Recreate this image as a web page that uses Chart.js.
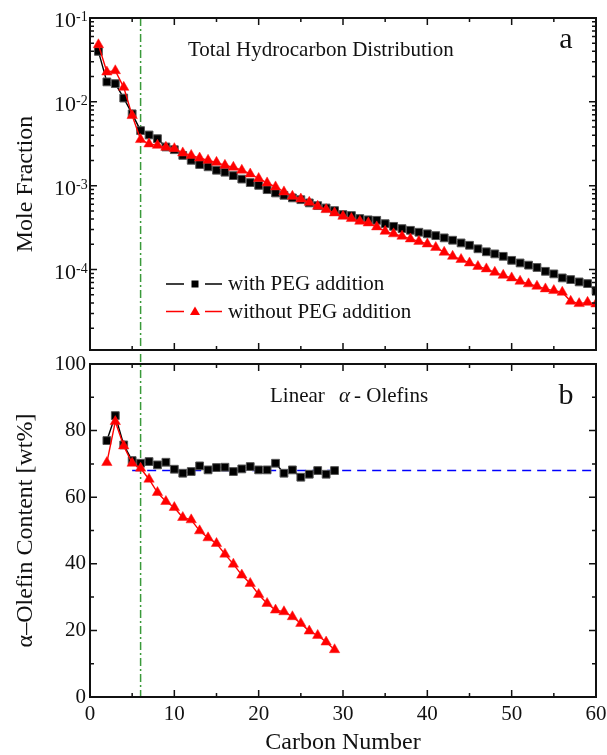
<!DOCTYPE html>
<html><head><meta charset="utf-8">
<script src="https://cdn.jsdelivr.net/npm/chart.js@4.4.1/dist/chart.umd.min.js"></script>
<style>
html,body{margin:0;padding:0;background:#fff;}
#wrap{position:relative;width:607px;height:755px;overflow:hidden;background:#fff;}
canvas{position:absolute;left:0;top:0;}
</style></head><body>
<div id="wrap"><canvas id="cTop" width="607" height="755"></canvas><canvas id="cBot" width="607" height="755"></canvas></div>
<script>
// ---------- data ----------
const carbonTop = [1,2,3,4,5,6,7,8,9,10,11,12,13,14,15,16,17,18,19,20,21,22,23,24,25,26,27,28,29,30,
  31,32,33,34,35,36,37,38,39,40,41,42,43,44,45,46,47,48,49,50,51,52,53,54,55,56,57,58,59,60];
const withPEGTop = [0.040,0.0173,0.0165,0.0111,0.0072,0.00454,0.00403,0.00364,0.0029,0.00269,
  0.0023,0.00201,0.00179,0.00168,0.00153,0.00145,0.00132,0.0012,0.00109,0.00101,
  0.000898,0.00082,0.000769,0.000716,0.000682,0.000624,0.000579,0.000543,0.000505,0.000453,
  0.000441,0.000406,0.000392,0.000387,0.000353,0.000328,0.000308,0.000294,0.000279,0.000267,
  0.000254,0.000239,0.000224,0.000208,0.000195,0.000177,0.000163,0.000154,0.000144,0.000129,
  0.00012,0.000113,0.000106,0.0000954,0.0000889,0.0000796,0.000076,0.0000713,0.0000681,0.0000562];
const withoutPEGTop = [0.048,0.0227,0.0235,0.0149,0.00686,0.00355,0.00315,0.00303,0.00287,0.00277,
  0.00246,0.0023,0.00214,0.00201,0.0019,0.00175,0.00166,0.00153,0.00138,0.00122,
  0.00108,0.000968,0.000844,0.000748,0.000695,0.000634,0.000569,0.000519,0.000474,0.000432,
  0.000406,0.000377,0.00036,0.000323,0.000286,0.000267,0.00025,0.000232,0.000217,0.000202,
  0.000184,0.000161,0.000144,0.000132,0.00012,0.000109,0.000102,0.0000929,0.0000855,0.0000796,
  0.0000726,0.0000676,0.0000633,0.0000589,0.0000562,0.0000537,0.0000419,0.0000393,0.0000407,0.000039];

const carbonBottom = [2,3,4,5,6,7,8,9,10,11,12,13,14,15,16,17,18,19,20,21,22,23,24,25,26,27,28,29];
const withPEGOlefin = [77.0,84.5,75.7,71.0,70.2,70.7,69.7,70.5,68.4,67.2,67.7,69.4,68.2,68.9,69.0,
  67.7,68.5,69.2,68.2,68.2,70.2,67.2,68.2,66.0,66.9,68.0,66.9,68.0];
const withoutPEGOlefin = [70.4,82.7,75.4,70.2,68.7,65.4,61.4,58.7,56.9,53.9,53.2,49.9,47.8,46.1,42.9,
  39.9,36.6,34.1,30.8,28.1,26.1,25.6,24.1,22.1,19.8,18.5,16.5,14.2];

const refLineX = [5, 60];
const refLineY = [68, 68];
const markerCarbon = 6;

const seriesNames = ['with PEG addition', 'without PEG addition'];
const xTickLabels = [0, 10, 20, 30, 40, 50, 60];
const logTickExponents = [-1, -2, -3, -4];
const yTickLabelsBottom = [0, 20, 40, 60, 80, 100];

// ---------- helpers ----------
const SERIF = "'Liberation Serif','Times New Roman',serif";
const INK = '#111';
const toXY = (xs, ys) => xs.map((x, i) => ({x: x, y: ys[i]}));

function drawTicks(chart, opts) {
  const {ctx, chartArea: a, scales: {x, y}} = chart;
  ctx.save();
  ctx.strokeStyle = INK;
  ctx.lineWidth = 1.5;
  ctx.beginPath();
  for (let v = x.min; v <= x.max + 1e-9; v += 5) {
    const px = x.getPixelForValue(v);
    const len = (Math.round(v) % 10 === 0) ? 7 : 4;
    ctx.moveTo(px, a.bottom); ctx.lineTo(px, a.bottom - len);
    ctx.moveTo(px, a.top); ctx.lineTo(px, a.top + len);
  }
  opts.yMarks(y).forEach(m => {
    const py = y.getPixelForValue(m.v);
    const len = m.major ? 7 : 4;
    ctx.moveTo(a.left, py); ctx.lineTo(a.left + len, py);
    ctx.moveTo(a.right, py); ctx.lineTo(a.right - len, py);
  });
  ctx.stroke();
  ctx.lineWidth = 2;
  ctx.strokeRect(a.left, a.top, a.right - a.left, a.bottom - a.top);
  ctx.restore();
}

const framePlugin = {
  id: 'frame',
  beforeDatasetsDraw(chart, args, opts) {
    if (!opts.markerLine) return;
    const {ctx, scales: {x}} = chart;
    const px = x.getPixelForValue(markerCarbon);
    ctx.save();
    ctx.strokeStyle = '#3a9a3a';
    ctx.lineWidth = 1.5;
    ctx.setLineDash([8, 3, 2, 3]);
    ctx.beginPath();
    ctx.moveTo(px, opts.markerTop); ctx.lineTo(px, opts.markerBottom);
    ctx.stroke();
    ctx.restore();
  },
  afterDatasetsDraw(chart, args, opts) {
    drawTicks(chart, opts);
    if (opts.decorate) opts.decorate(chart);
  }
};

function yAxisFit(scale) { scale.width = 90; scale.paddingTop = 0; scale.paddingBottom = 0; }

// ---------- top chart ----------
function decorateTop(chart) {
  const {ctx, chartArea: a, scales: {y}} = chart;
  ctx.save();
  ctx.fillStyle = INK;
  logTickExponents.forEach(e => {
    const py = y.getPixelForValue(Math.pow(10, e));
    ctx.font = `22px ${SERIF}`; ctx.textAlign = 'right'; ctx.textBaseline = 'alphabetic';
    ctx.fillText('10', a.left - 14, py + 9);
    ctx.font = `14px ${SERIF}`; ctx.textAlign = 'left';
    ctx.fillText(String(e), a.left - 14, py + 3);
  });
  ctx.font = `21px ${SERIF}`; ctx.textAlign = 'left'; ctx.textBaseline = 'alphabetic';
  ctx.fillText('Total Hydrocarbon Distribution', 188, 56);
  ctx.font = `30px ${SERIF}`; ctx.textAlign = 'center';
  ctx.fillText('a', 566, 48);
  // legend, in the order of seriesNames
  const rows = [284, 311.5];
  seriesNames.forEach((name, i) => {
    const d = chart.data.datasets.find(ds => ds.label === name);
    const ly = rows[i];
    ctx.strokeStyle = d.borderColor; ctx.lineWidth = 1.5;
    ctx.beginPath();
    ctx.moveTo(166, ly); ctx.lineTo(184, ly);
    ctx.moveTo(205, ly); ctx.lineTo(222, ly);
    ctx.stroke();
    ctx.fillStyle = d.pointBackgroundColor;
    ctx.beginPath();
    if (d.pointStyle === 'rect') {
      ctx.rect(191.5, ly - 3.5, 7, 7);
    } else {
      ctx.moveTo(195, ly - 5); ctx.lineTo(200, ly + 3.5); ctx.lineTo(190, ly + 3.5); ctx.closePath();
    }
    ctx.fill();
    ctx.fillStyle = INK;
    ctx.font = `21px ${SERIF}`; ctx.textAlign = 'left';
    ctx.fillText(d.label, 228, ly + 6);
  });
  ctx.restore();
}

new Chart(document.getElementById('cTop'), {
  type: 'line',
  data: {
    datasets: [
      { label: seriesNames[1], data: toXY(carbonTop, withoutPEGTop), order: 0,
        borderColor: '#ff0000', borderWidth: 1.4, pointStyle: 'triangle', pointRadius: 6,
        pointBackgroundColor: '#ff0000', pointBorderColor: '#ff1a1a', pointBorderWidth: 0.5 },
      { label: seriesNames[0], data: toXY(carbonTop, withPEGTop), order: 1,
        borderColor: '#000000', borderWidth: 1.4, pointStyle: 'rect', pointRadius: 5.5,
        pointBackgroundColor: '#000000', pointBorderColor: '#555', pointBorderWidth: 1 }
    ]
  },
  options: {
    responsive: false, animation: false, devicePixelRatio: 1,
    layout: { padding: { left: 0, right: 11, top: 18, bottom: 405 } },
    scales: {
      x: { type: 'linear', min: 0, max: 60, grid: {display: false}, border: {display: false},
           ticks: {display: false},
           afterFit: s => { s.height = 0; s.paddingLeft = 0; s.paddingRight = 0; } },
      y: { type: 'logarithmic', min: 1.1e-5, max: 0.1, grid: {display: false}, border: {display: false},
           ticks: {display: false},
           title: { display: true, text: 'Mole Fraction', color: INK,
                    font: {family: SERIF, size: 24}, padding: {top: 11, bottom: 0} },
           afterFit: yAxisFit }
    },
    plugins: {
      legend: {display: false}, tooltip: {enabled: false},
      frame: {
        markerLine: true, markerTop: 18, markerBottom: 697,
        yMarks: (y) => {
          const out = [];
          for (let d = -5; d <= -1; d++) for (let m = 1; m <= 9; m++) {
            const v = m * Math.pow(10, d);
            if (v >= y.min && v <= y.max * 1.0001) out.push({v: v, major: m === 1});
          }
          return out;
        },
        decorate: decorateTop
      }
    }
  },
  plugins: [framePlugin]
});

// ---------- bottom chart ----------
function decorateBottom(chart) {
  const {ctx} = chart;
  ctx.save();
  ctx.fillStyle = INK; ctx.textBaseline = 'alphabetic'; ctx.textAlign = 'left';
  ctx.font = `21px ${SERIF}`;
  ctx.fillText('Linear', 270, 402);
  ctx.font = `italic 21px ${SERIF}`;
  ctx.fillText('α', 339, 402);
  ctx.font = `21px ${SERIF}`;
  ctx.fillText('- Olefins', 354, 402);
  ctx.font = `30px ${SERIF}`; ctx.textAlign = 'center';
  ctx.fillText('b', 566, 404);
  ctx.restore();
}

new Chart(document.getElementById('cBot'), {
  type: 'line',
  data: {
    datasets: [
      { label: seriesNames[1], data: toXY(carbonBottom, withoutPEGOlefin), order: 0,
        borderColor: '#ff0000', borderWidth: 1.4, pointStyle: 'triangle', pointRadius: 6,
        pointBackgroundColor: '#ff0000', pointBorderColor: '#ff1a1a', pointBorderWidth: 0.5 },
      { label: seriesNames[0], data: toXY(carbonBottom, withPEGOlefin), order: 1,
        borderColor: '#000000', borderWidth: 1.4, pointStyle: 'rect', pointRadius: 5.5,
        pointBackgroundColor: '#000000', pointBorderColor: '#555', pointBorderWidth: 1 },
      { label: 'average', data: toXY(refLineX, refLineY), order: 2,
        borderColor: '#0000ff', borderWidth: 1.5, borderDash: [9, 6], pointRadius: 0 }
    ]
  },
  options: {
    responsive: false, animation: false, devicePixelRatio: 1,
    layout: { padding: { left: 0, right: 11, top: 364, bottom: 0 } },
    scales: {
      x: { type: 'linear', min: 0, max: 60, grid: {display: false, drawTicks: false}, border: {display: false},
           afterBuildTicks: s => { s.ticks = xTickLabels.map(v => ({value: v})); },
           ticks: { color: INK, font: {family: SERIF, size: 21}, padding: 5, maxRotation: 0 },
           title: { display: true, text: 'Carbon Number', color: INK,
                    font: {family: SERIF, size: 24, lineHeight: 1}, padding: {top: 0, bottom: 0} },
           afterFit: s => { s.height = 58; s.paddingLeft = 0; s.paddingRight = 0; } },
      y: { type: 'linear', min: 0, max: 100, grid: {display: false, drawTicks: false}, border: {display: false},
           afterBuildTicks: s => { s.ticks = yTickLabelsBottom.map(v => ({value: v})); },
           ticks: { color: INK, font: {family: SERIF, size: 21}, padding: 4 },
           title: { display: true, text: 'α–Olefin Content [wt%]', color: INK,
                    font: {family: SERIF, size: 24}, padding: {top: 11, bottom: 0} },
           afterFit: yAxisFit }
    },
    plugins: {
      legend: {display: false}, tooltip: {enabled: false},
      frame: {
        markerLine: false,
        yMarks: () => [0,10,20,30,40,50,60,70,80,90,100].map(v => ({v: v, major: v % 20 === 0})),
        decorate: decorateBottom
      }
    }
  },
  plugins: [framePlugin]
});
</script>
</body></html>
